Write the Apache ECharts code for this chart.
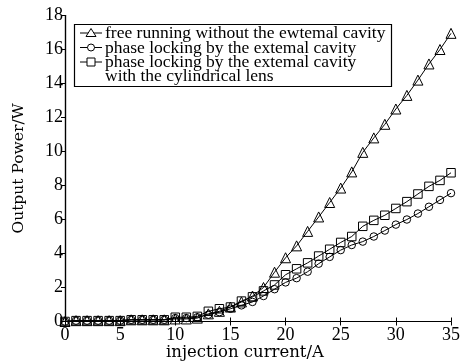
<!DOCTYPE html>
<html>
<head>
<meta charset="utf-8">
<script src="https://cdn.jsdelivr.net/npm/echarts@6/dist/echarts.min.js"></script>
<style>html,body{margin:0;padding:0;background:#fff}#c{width:460px;height:364px}</style>
</head>
<body>
<div id="c"></div>
<script>
var current = [0,1,2,3,4,5,6,7,8,9,10,11,12,13,14,15,16,17,18,19,20,21,22,23,24,25,26,27,28,29,30,31,32,33,34,35];
var freeRunning = [0.0,0.05,0.05,0.05,0.05,0.05,0.1,0.1,0.1,0.1,0.15,0.15,0.2,0.45,0.6,0.85,1.15,1.5,2.0,2.9,3.75,4.45,5.3,6.15,7.0,7.85,8.8,9.95,10.8,11.6,12.5,13.3,14.2,15.15,16.0,16.95];
var phaseLocking = [0.0,0.05,0.05,0.05,0.05,0.05,0.1,0.1,0.1,0.1,0.2,0.2,0.25,0.4,0.55,0.75,0.95,1.15,1.5,1.9,2.3,2.55,2.93,3.4,3.8,4.2,4.5,4.7,5.0,5.35,5.7,6.0,6.35,6.75,7.15,7.55];
var phaseLockingLens = [0.0,0.05,0.05,0.05,0.05,0.05,0.1,0.1,0.1,0.1,0.25,0.25,0.3,0.6,0.75,0.85,1.2,1.45,1.8,2.15,2.75,3.1,3.45,3.85,4.25,4.65,5.0,5.6,5.95,6.25,6.65,7.05,7.5,7.95,8.3,8.75];
var xTicks = [0,5,10,15,20,25,30,35];
var yTicks = [0,2,4,6,8,10,12,14,16,18];
var legendNames = ['free running without the ewtemal cavity','phase locking by the extemal cavity','phase locking by the extemal cavity','with the cylindrical lens'];
var xTitle = 'injection current/A';
var yTitle = 'Output Power/W';

function pairs(ys){ return current.map(function(x,i){ return [x, ys[i]]; }); }

var chart = echarts.init(document.getElementById('c'), null, {renderer:'canvas'});
var tickFont = {color:'#000', fontFamily:'Liberation Serif', fontSize:18};
var mk = {color:'rgba(255,255,255,0)', borderColor:'#000', borderWidth:1};
function ser(name, data, sym, size){
  return {name:name, type:'line', data:pairs(data), symbol:sym, symbolSize:size, showAllSymbol:true,
    lineStyle:{color:'#000', width:1}, itemStyle:mk, emphasis:{disabled:true}, animation:false, z:3};
}
var lx = 80, rows = [33, 47.5, 62, 76];
var tx = 105;
var g = [
  {type:'rect', shape:{x:74.5, y:24.5, width:317, height:62}, style:{fill:'#fff', stroke:'#000', lineWidth:1.2}, z:10},
];
for (var i=0;i<3;i++){
  g.push({type:'line', shape:{x1:lx, y1:rows[i], x2:lx+22, y2:rows[i]}, style:{stroke:'#000', lineWidth:1}, z:11});
}
g.push({type:'polygon', shape:{points:[[91,rows[0]-4.5],[86,rows[0]+3.5],[96,rows[0]+3.5]]}, style:{fill:'#fff', stroke:'#000', lineWidth:1}, z:12});
g.push({type:'circle', shape:{cx:91, cy:rows[1], r:3.5}, style:{fill:'#fff', stroke:'#000', lineWidth:1}, z:12});
g.push({type:'rect', shape:{x:87, y:rows[2]-4, width:8, height:8}, style:{fill:'#fff', stroke:'#000', lineWidth:1}, z:12});
for (var j=0;j<4;j++){
  g.push({type:'text', x: tx, y: rows[j]+0.5, style:{text:legendNames[j], fill:'#000', font:'17.5px "Liberation Serif"', verticalAlign:'middle', align:'left'}, z:12});
}

chart.setOption({
  animation:false,
  backgroundColor:'#fff',
  grid:{left:65, right:9, top:15.5, bottom:42.5, containLabel:false, outerBoundsMode:'none'},
  xAxis:[
    {type:'value', min:0, max:35, interval:5, position:'bottom',
     axisLine:{lineStyle:{color:'#000', width:1.2}}, axisTick:{inside:true, length:4, lineStyle:{color:'#000'}},
     axisLabel:Object.assign({margin:5}, tickFont), splitLine:{show:false},
     name:xTitle, nameLocation:'middle', nameGap:23, nameMoveOverlap:false,
     nameTextStyle:{color:'#000', fontFamily:'DejaVu Serif', fontSize:16.5, padding:[0,26,0,0]}},
    {type:'value', min:0, max:35, interval:5, position:'top',
     axisLine:{lineStyle:{color:'#000', width:1.2}}, axisTick:{inside:true, length:4, lineStyle:{color:'#000'}},
     axisLabel:{show:false}, splitLine:{show:false}}
  ],
  yAxis:[
    {type:'value', min:0, max:18, interval:2, position:'left',
     axisLine:{show:true, lineStyle:{color:'#000', width:1.2}}, axisTick:{show:true, inside:false, length:3, lineStyle:{color:'#000'}},
     axisLabel:Object.assign({margin:2}, tickFont), splitLine:{show:false},
     name:yTitle, nameLocation:'middle', nameGap:38, nameMoveOverlap:false, nameRotate:90,
     nameTextStyle:{color:'#000', fontFamily:'DejaVu Serif', fontSize:15.5}},
    {type:'value', min:0, max:18, interval:2, position:'right',
     axisLine:{show:true, lineStyle:{color:'#000', width:1.2}}, axisTick:{show:true, inside:true, length:4, lineStyle:{color:'#000'}},
     axisLabel:{show:false}, splitLine:{show:false}}
  ],
  series:[
    ser(legendNames[0], freeRunning, 'triangle', 10),
    ser(legendNames[1], phaseLocking, 'circle', 7.5),
    ser(legendNames[2], phaseLockingLens, 'rect', 8.5)
  ],
  graphic:g
});
</script>
</body>
</html>
